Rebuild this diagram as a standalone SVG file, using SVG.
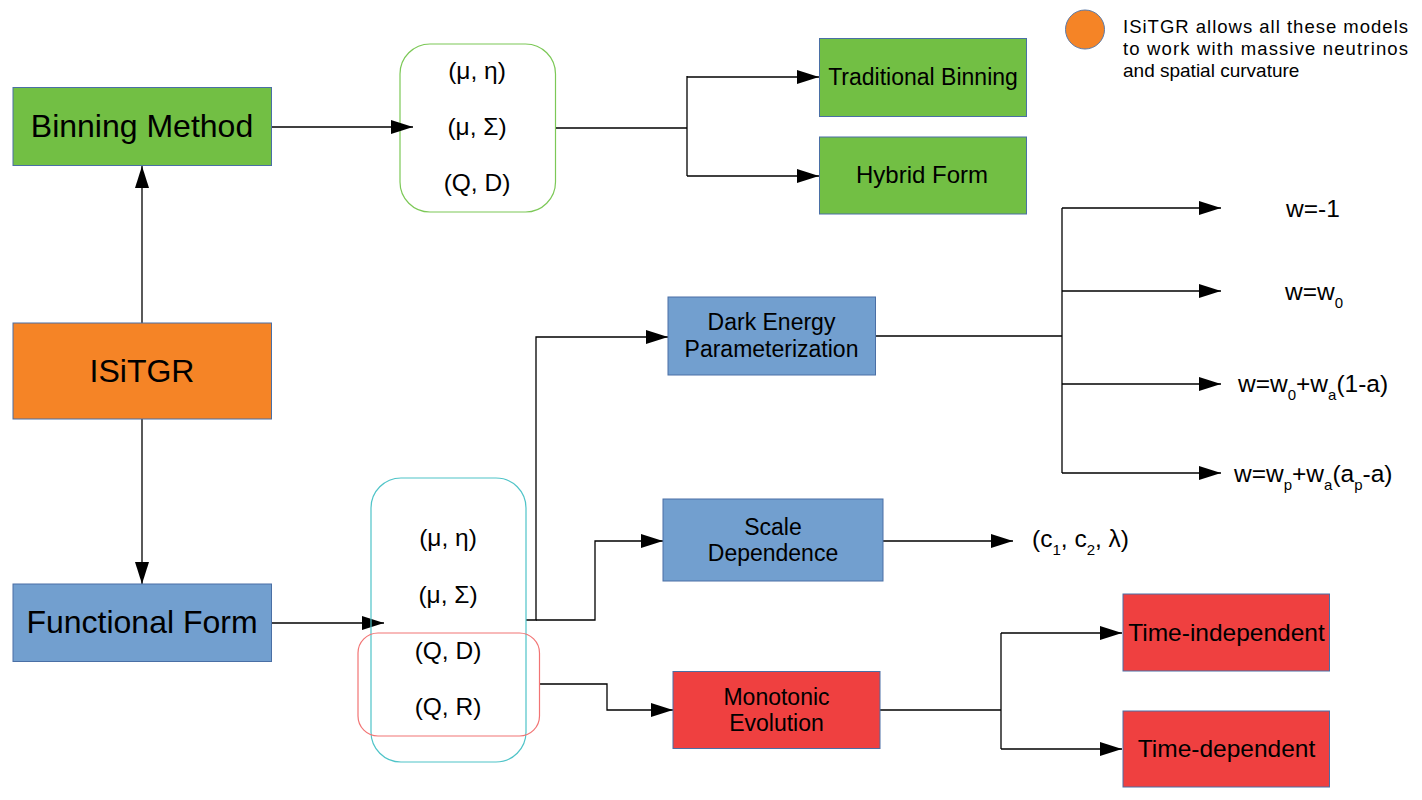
<svg xmlns="http://www.w3.org/2000/svg" width="1422" height="800" viewBox="0 0 1422 800">
<style>
text{font-family:"Liberation Sans",Arial,sans-serif;fill:#000}
.box{stroke:#4a6fa5;stroke-width:1}
.g{fill:#72bf44}.o{fill:#f58426}.b{fill:#729fcf}.r{fill:#ef4040}
.big{font-size:32px;text-anchor:middle}
.mid{font-size:23px;text-anchor:middle}
.lbl{font-size:24.5px}
.sub{font-size:15px}
.c{text-anchor:middle}
.con{fill:none;stroke:#000;stroke-width:1.3}
</style>
<defs>
<marker id="arr" markerWidth="22" markerHeight="14" refX="22" refY="7" orient="auto" markerUnits="userSpaceOnUse">
<path d="M0,0 L22,7 L0,14 z" fill="#000"/>
</marker>
</defs>
<rect width="1422" height="800" fill="#fff"/>

<g id="binning-params">
<rect x="400" y="44" width="155.5" height="168" rx="30" fill="none" stroke="#7cc857" stroke-width="1.2"/>
<text class="lbl c" x="477" y="79">(μ, η)</text>
<text class="lbl c" x="477" y="135">(μ, Σ)</text>
<text class="lbl c" x="477" y="191">(Q, D)</text>
</g>

<g id="connectors">
<path class="con" d="M142,323 V166" marker-end="url(#arr)"/>
<path class="con" d="M142,419 V584" marker-end="url(#arr)"/>
<path class="con" d="M272,127 H413" marker-end="url(#arr)"/>
<path class="con" d="M556,128 H687"/>
<path class="con" d="M687,76 V176"/>
<path class="con" d="M687,77 H819" marker-end="url(#arr)"/>
<path class="con" d="M687,176 H819" marker-end="url(#arr)"/>
<path class="con" d="M272,623 H384" marker-end="url(#arr)"/>
<path class="con" d="M526,620 H536 V337 H668" marker-end="url(#arr)"/>
<path class="con" d="M536,620 H595 V541 H663" marker-end="url(#arr)"/>
<path class="con" d="M540,684 H607 V710 H673" marker-end="url(#arr)"/>
<path class="con" d="M876,336 H1062"/>
<path class="con" d="M1062,208 V473"/>
<path class="con" d="M1062,208 H1221" marker-end="url(#arr)"/>
<path class="con" d="M1062,291 H1221" marker-end="url(#arr)"/>
<path class="con" d="M1062,384 H1221" marker-end="url(#arr)"/>
<path class="con" d="M1062,473 H1221" marker-end="url(#arr)"/>
<path class="con" d="M883,541 H1013" marker-end="url(#arr)"/>
<path class="con" d="M880,710 H1001"/>
<path class="con" d="M1001,633 V749"/>
<path class="con" d="M1001,633 H1122" marker-end="url(#arr)"/>
<path class="con" d="M1001,749 H1122" marker-end="url(#arr)"/>
</g>

<g id="binning-method">
<rect class="box g" x="13" y="87.5" width="258.5" height="78"/>
<text class="big" x="142" y="137">Binning Method</text>
</g>
<g id="isitgr">
<rect class="box o" x="13" y="323" width="258.5" height="96"/>
<text class="big" x="142" y="382">ISiTGR</text>
</g>
<g id="functional-form">
<rect class="box b" x="13" y="584" width="258.5" height="77.5"/>
<text class="big" x="142" y="633">Functional Form</text>
</g>

<g id="traditional-binning">
<rect class="box g" x="819.5" y="38.5" width="207" height="78"/>
<text class="mid" x="923" y="85">Traditional Binning</text>
</g>
<g id="hybrid-form">
<rect class="box g" x="819.5" y="137" width="207" height="77"/>
<text class="mid" x="922" y="183" style="font-size:24px">Hybrid Form</text>
</g>

<g id="functional-params">
<rect x="371" y="478" width="155" height="284" rx="30" fill="none" stroke="#4fc4c8" stroke-width="1.2"/>
<text class="lbl c" x="448" y="546">(μ, η)</text>
<text class="lbl c" x="448" y="603">(μ, Σ)</text>
<text class="lbl c" x="448" y="659">(Q, D)</text>
<text class="lbl c" x="448" y="715">(Q, R)</text>
</g>
<g id="qd-group">
<rect x="358" y="633" width="181.5" height="103" rx="20" fill="none" stroke="#f27474" stroke-width="1.2"/>
</g>

<g id="dark-energy">
<rect class="box b" x="668" y="297" width="207.5" height="78"/>
<text class="mid" x="771.5" y="330">Dark Energy</text>
<text class="mid" x="771.5" y="357">Parameterization</text>
</g>
<g id="scale-dependence">
<rect class="box b" x="663" y="499" width="220" height="82"/>
<text class="mid" x="773" y="535">Scale</text>
<text class="mid" x="773" y="561">Dependence</text>
</g>
<g id="monotonic-evolution">
<rect class="box r" x="673" y="671.5" width="207" height="77"/>
<text class="mid" x="776.5" y="705">Monotonic</text>
<text class="mid" x="776.5" y="731">Evolution</text>
</g>

<g id="time-independent">
<rect class="box r" x="1123" y="594" width="206.5" height="77"/>
<text class="c" x="1226.5" y="641" style="font-size:24.5px">Time-independent</text>
</g>
<g id="time-dependent">
<rect class="box r" x="1123" y="711" width="206.5" height="76"/>
<text class="c" x="1226.5" y="757" style="font-size:24.5px">Time-dependent</text>
</g>

<g id="w-const">
<text class="lbl" x="1286" y="217">w=-1</text>
</g>
<g id="w-w0">
<text class="lbl" x="1285" y="300">w=w<tspan class="sub" dy="8">0</tspan></text>
</g>
<g id="w-cpl">
<text class="lbl" x="1238" y="392">w=w<tspan class="sub" dy="8">0</tspan><tspan dy="-8">+w</tspan><tspan class="sub" dy="8">a</tspan><tspan dy="-8">(1-a)</tspan></text>
</g>
<g id="w-pivot">
<text class="lbl" x="1234" y="482">w=w<tspan class="sub" dy="8">p</tspan><tspan dy="-8">+w</tspan><tspan class="sub" dy="8">a</tspan><tspan dy="-8">(a</tspan><tspan class="sub" dy="8">p</tspan><tspan dy="-8">-a)</tspan></text>
</g>
<g id="scale-params">
<text class="lbl" x="1032" y="547">(c<tspan class="sub" dy="8">1</tspan><tspan dy="-8">, c</tspan><tspan class="sub" dy="8">2</tspan><tspan dy="-8">, λ)</tspan></text>
</g>

<g id="legend">
<circle cx="1085" cy="29.5" r="19.5" fill="#f58426" stroke="#5b7aa8" stroke-width="1"/>
<text x="1123" y="33" style="font-size:18.5px" textLength="285" lengthAdjust="spacing">ISiTGR allows all these models</text>
<text x="1123" y="55" style="font-size:18.5px" textLength="285" lengthAdjust="spacing">to work with massive neutrinos</text>
<text x="1123" y="77" style="font-size:19px">and spatial curvature</text>
</g>
</svg>
